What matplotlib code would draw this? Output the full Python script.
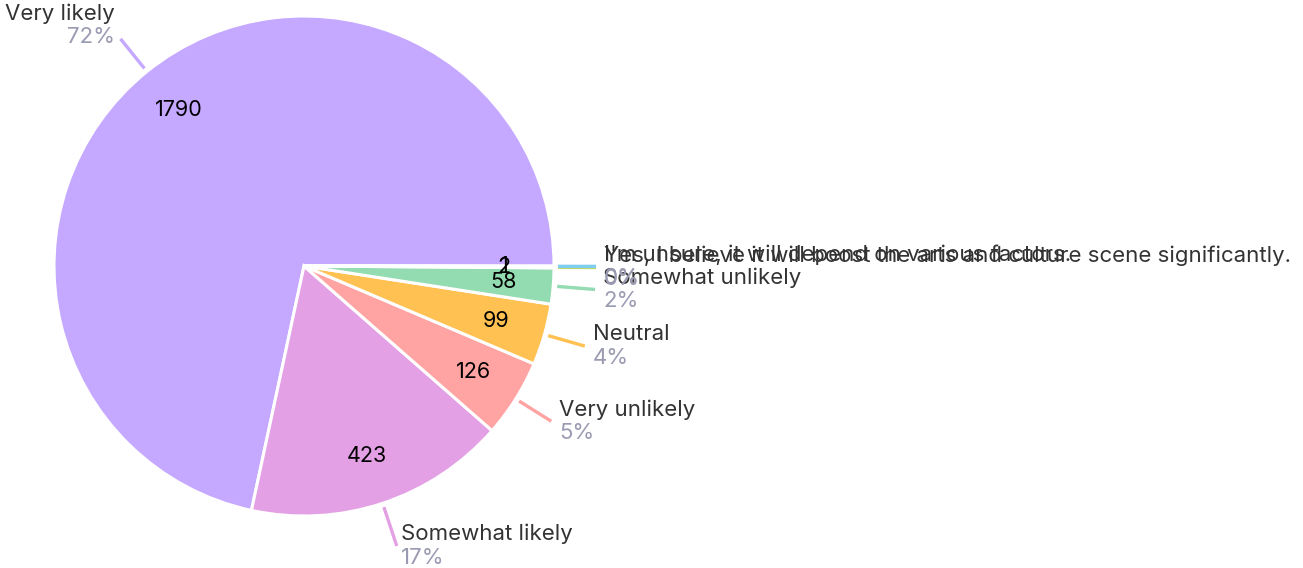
import matplotlib.pyplot as plt
import numpy as np

plt.rcParams['font.family'] = ['Inter', 'DejaVu Sans']

# data
labels = ["Very likely", "Somewhat likely", "Very unlikely", "Neutral",
          "Somewhat unlikely",
          "Yes, I believe it will boost the arts and culture scene significantly.",
          "I'm unsure, it will depend on various factors."]
counts = [1790, 423, 126, 99, 58, 2, 1]
colors = ["#c5a8ff", "#e4a0e4", "#ffa3a3", "#ffc152", "#93dbb0", "#b9d96e", "#7fcdef"]

W, H = 1303, 568
cx, cy, R = 304, H - 266, 250

fig = plt.figure(figsize=(W / 100, H / 100), dpi=100)
ax = fig.add_axes([0, 0, 1, 1])

wedges, _ = ax.pie(counts, colors=colors, startangle=0, counterclock=True,
                   radius=R, center=(cx, cy),
                   wedgeprops=dict(edgecolor="white", linewidth=2.2))

total = sum(counts)
for w, lab, n, col in zip(wedges, labels, counts, colors):
    mid = np.deg2rad((w.theta1 + w.theta2) / 2)
    c, s = np.cos(mid), np.sin(mid)
    # value inside slice
    ax.text(cx + 200 * c, cy + 200 * s, str(n), ha="center", va="center",
            fontsize=15.5, color="black")
    # leader line
    bottom = s < -0.8
    r2 = 295 if bottom else 292
    ax.plot([cx + 254 * c, cx + r2 * c], [cy + 254 * s, cy + r2 * s],
            color=col, lw=2.4, solid_capstyle="butt")
    tx, ty = cx + r2 * c, cy + r2 * s
    pct = f"{round(n / total * 100)}%"
    if c >= 0:
        dx = 4 if bottom else 8
        ax.text(tx + dx, ty + 12, lab, ha="left", va="center", fontsize=16, color="#333333")
        ax.text(tx + dx, ty - 12, pct, ha="left", va="center", fontsize=16, color="#9a9bb2")
    else:
        ax.text(tx - 6, ty + 25, lab, ha="right", va="center", fontsize=16, color="#333333")
        ax.text(tx - 6, ty + 2, pct, ha="right", va="center", fontsize=16, color="#9a9bb2")

ax.set_xlim(0, W)
ax.set_ylim(0, H)
ax.set_aspect("equal")
ax.axis("off")

fig.savefig("out.png", dpi=100)
